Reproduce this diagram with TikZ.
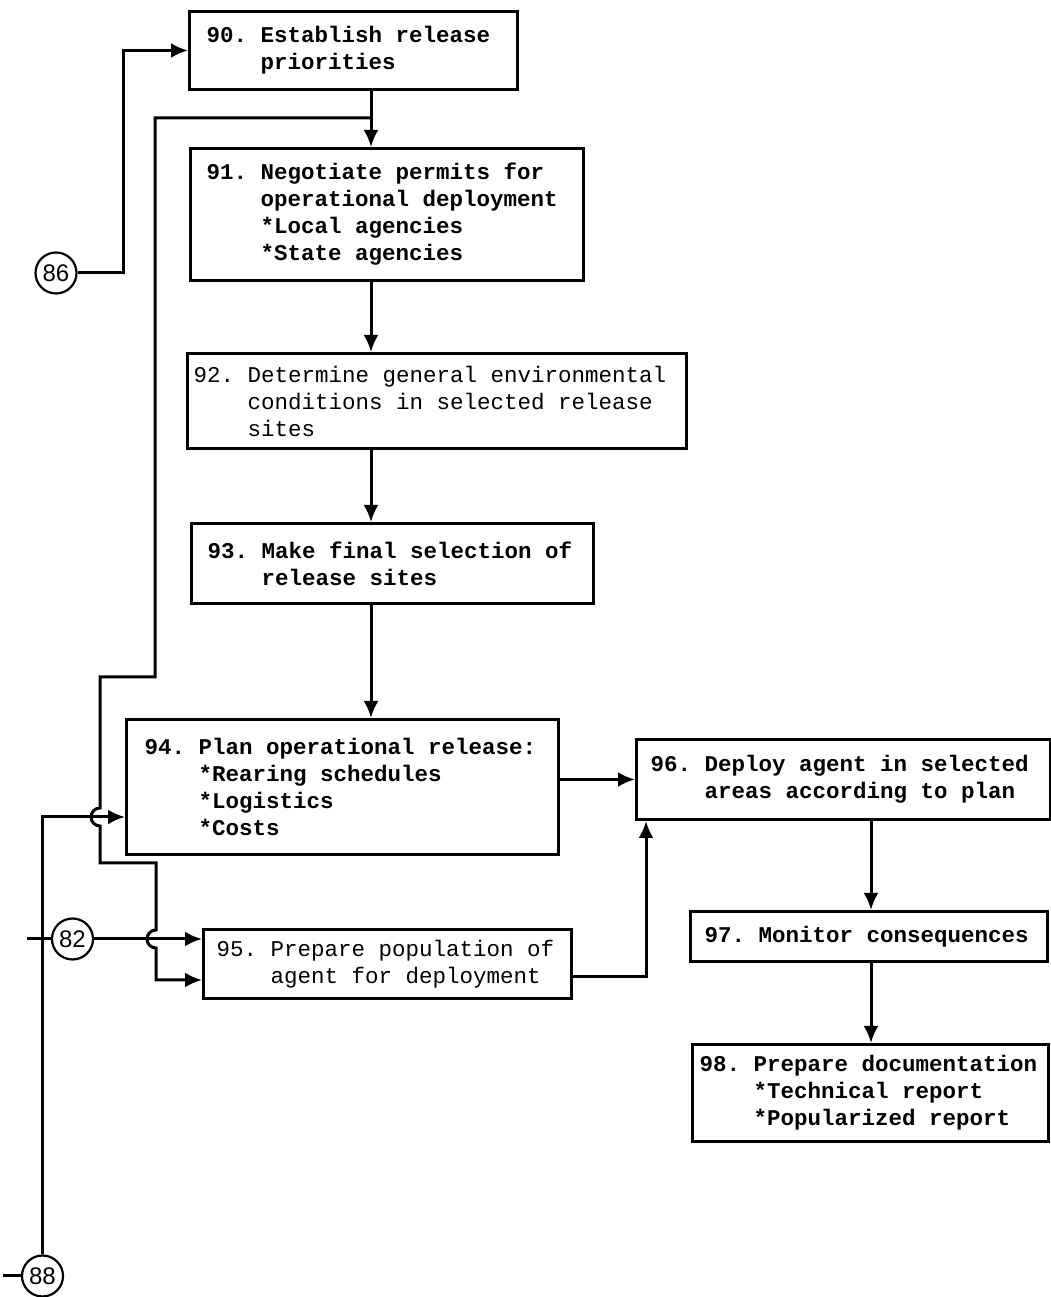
\documentclass[tikz,border=0pt]{standalone}
\usepackage{fontspec}
\newfontfamily\twf{Liberation Mono}
\newfontfamily\circf{Liberation Sans}
\usetikzlibrary{arrows.meta}
\frenchspacing
\newcommand\ind{\hphantom{0000}}
\newcommand\fixsp{\spaceskip=0.6em\relax\xspaceskip=0.6em\relax\hyphenpenalty=10000\relax\exhyphenpenalty=10000\relax}
\hfuzz=40pt
\tikzset{
  box/.style={draw, line width=3pt, rectangle, anchor=north west, align=left, inner ysep=0pt,
    font=\twf\fontsize{22.5}{27}\selectfont\frenchspacing},
  bbox/.style={box, font=\twf\bfseries\fontsize{22.5}{27}\selectfont\frenchspacing},
  conn/.style={line width=3pt},
  arr/.style={conn, -{Latex[length=17pt,width=15pt]}},
  refc/.style={circle, draw, line width=2.2pt, minimum size=41pt, inner sep=0pt,
    font=\circf\fontsize{24}{24}\selectfont},
}
\begin{document}
\begin{tikzpicture}[x=1pt,y=1pt]
\useasboundingbox (0,0) rectangle (1050,1297);
\fill[white] (0,0) rectangle (1050,1297);

% boxes
\node[bbox, minimum width=328pt, minimum height=78pt, text width=294pt, inner xsep=17pt] (b90) at (188,1287)
  {\fixsp 90. Establish release\\ \ind priorities};
\node[bbox, minimum width=393pt, minimum height=132pt, text width=361pt, inner xsep=16pt] (b91) at (189,1150)
  {\fixsp 91. Negotiate permits for\\ \ind operational deployment\\ \ind *Local agencies\\ \ind *State agencies};
\node[box, minimum width=499pt, minimum height=95pt, text width=487pt, inner xsep=6pt] (b92) at (186,945)
  {\fixsp 92. Determine general environmental\\ \ind conditions in selected release\\ \ind sites};
\node[bbox, minimum width=402pt, minimum height=80pt, text width=370pt, inner xsep=16pt] (b93) at (190,775)
  {\fixsp 93. Make final selection of\\ \ind release sites};
\node[bbox, minimum width=432pt, minimum height=135pt, text width=396pt, inner xsep=18pt] (b94) at (125,579)
  {\fixsp 94. Plan operational release:\\ \ind *Rearing schedules\\ \ind *Logistics\\ \ind *Costs};
\node[box, minimum width=368pt, minimum height=69pt, text width=342pt, inner xsep=13pt] (b95) at (202,369)
  {\fixsp 95. Prepare population of\\ \ind agent for deployment};
\node[bbox, minimum width=414pt, minimum height=80pt, text width=386pt, inner xsep=14pt] (b96) at (635,559)
  {\fixsp 96. Deploy agent in selected\\ \ind areas according to plan};
\node[bbox, minimum width=357pt, minimum height=50pt, text width=329pt, inner xsep=14pt] (b97) at (689,387)
  {\fixsp 97. Monitor consequences};
\node[bbox, minimum width=356pt, minimum height=97pt, text width=342pt, inner xsep=7pt] (b98) at (691,254)
  {\fixsp 98. Prepare documentation\\ \ind *Technical report\\ \ind *Popularized report};

% reference circles
\node[refc] (c86) at (56,1024) {86};
\node[refc] (c82) at (72.5,358) {82};
\node[refc] (c88) at (42.5,21) {88};

% helper coordinates
\coordinate (k86) at (123,1024);
\coordinate (j91) at (371,1179);
\coordinate (k88) at (42.5,480);
\coordinate (e88) at (3,21);
\coordinate (e82) at (27,358);
\coordinate (k95) at (646,320);
\coordinate (x97) at (871,400);
\coordinate (f1) at (155,1179);
\coordinate (f2) at (155,620);
\coordinate (f3) at (100,620);
\coordinate (f4) at (100,489);
\coordinate (f5) at (100,434);
\coordinate (f6) at (156,434);
\coordinate (f7) at (156,367);
\coordinate (f8) at (156,317);

% connectors
\draw[arr] (c86.east) -- (k86) |- (b90.west);
\draw[arr] (b90.south -| j91) -- (b91.north -| j91);
\draw[arr] (b91.south -| j91) -- (b92.north -| j91);
\draw[arr] (b92.south -| j91) -- (b93.north -| j91);
\draw[arr] (b93.south -| j91) -- (b94.north -| j91);

% feedback line with hops
\draw[arr, line join=miter] (j91) -- (f1) -- (f2) -- (f3) -- (f4)
  arc[start angle=90, end angle=270, radius=9pt] -- (f5) -- (f6) -- (f7)
  arc[start angle=90, end angle=270, radius=9pt] -- (f8) -- (f8 -| b95.west);

% 88 input
\draw[conn] (e88) -- (c88.west);
\draw[arr] (c88.north) -- (k88) -- (k88 -| b94.west);

% 82 input
\draw[conn] (e82) -- (c82.west);
\draw[arr] (c82.east) -- (c82.east -| b95.west);

% right side
\draw[arr] (b96.west -| b94.east) -- (b96.west);
\draw[arr] (b95.east |- k95) -- (k95) -- (k95 |- b96.south);
\draw[arr] (b96.south -| x97) -- (b97.north -| x97);
\draw[arr] (b97.south -| x97) -- (b98.north -| x97);
\end{tikzpicture}
\end{document}
